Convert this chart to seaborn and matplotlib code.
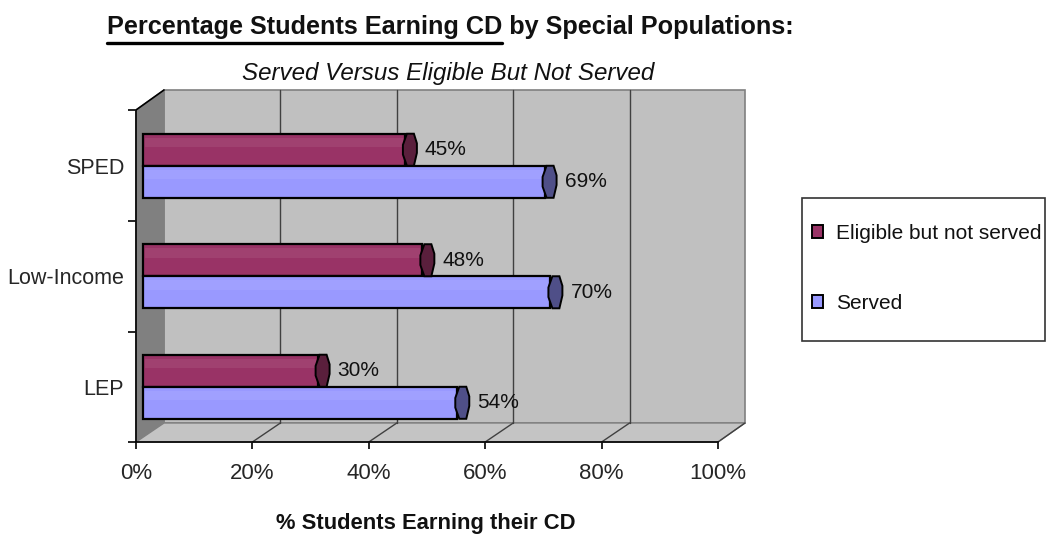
import matplotlib
matplotlib.use('Agg')
import matplotlib.pyplot as plt
import seaborn as sns
import pandas as pd
from matplotlib.patches import Polygon, Patch, Rectangle
from matplotlib.lines import Line2D
from matplotlib.transforms import ScaledTranslation

categories = ['SPED', 'Low-Income', 'LEP']
series_names = ['Eligible but not served', 'Served']
eligible = [0.45, 0.48, 0.30]
served = [0.69, 0.70, 0.54]
xtick_vals = [0, 0.2, 0.4, 0.6, 0.8, 1.0]
xtick_labels = ['0%', '20%', '40%', '60%', '80%', '100%']
colors = ['#993366', '#9999FF']
cap_colors = ['#5A1F3C', '#4F4F88']

df = pd.DataFrame({
    'cat': categories * 2,
    'series': [series_names[0]] * 3 + [series_names[1]] * 3,
    'value': eligible + served,
})

sns.set_theme(style='white')
FONT = ['Liberation Sans', 'DejaVu Sans']
plt.rcParams['font.family'] = FONT

W, H = 1047, 535
fig = plt.figure(figsize=(W / 100, H / 100), dpi=100)
fig.patch.set_facecolor('white')


def fx(x):
    return x / W


def fy(y):
    return 1 - y / H


def P(pts):
    return [(fx(x), fy(y)) for x, y in pts]


SCALE = 582.0  # px per 100%
ax = fig.add_axes([fx(136), fy(442), SCALE / W, (442 - 90) / H])
sns.barplot(data=df, y='cat', x='value', hue='series', orient='h',
            palette=colors, width=0.58, edgecolor='black', linewidth=1.6,
            saturation=1, ax=ax, legend=False, zorder=5)
ax.set_xlim(0, 1)
ax.set_ylim(2.5, 2.5 - 352 / 110.5)
ax.patch.set_visible(False)
for s in ['top', 'right', 'left']:
    ax.spines[s].set_visible(False)
ax.spines['bottom'].set_color('black')
ax.spines['bottom'].set_linewidth(1.2)
ax.set_xlabel('')
ax.set_ylabel('')

# 3D walls
deco = dict(transform=fig.transFigure, clip_on=False)
ax.add_patch(Polygon(P([(164, 90), (745, 90), (745, 423), (164, 423)]),
                     closed=True, facecolor='#C0C0C0', edgecolor='#808080', lw=1.2, zorder=0, **deco))
ax.add_patch(Polygon(P([(136, 442), (136, 110), (164, 90), (164, 423)]),
                     closed=True, facecolor='#808080', edgecolor='#808080', lw=1, zorder=1, **deco))
ax.add_patch(Polygon(P([(136, 442), (164, 423), (745, 423), (718, 442)]),
                     closed=True, facecolor='#C4C4C4', edgecolor='#808080', lw=1, zorder=1, **deco))
for xv in xtick_vals[1:-1]:
    xf = 136 + xv * SCALE
    xb = xf + 28
    ax.add_line(Line2D([fx(xb), fx(xb)], [fy(90), fy(423)], color='#404040', lw=1, zorder=2, **deco))
    ax.add_line(Line2D([fx(xf), fx(xb)], [fy(442), fy(423)], color='#404040', lw=1, zorder=2, **deco))
ax.add_line(Line2D([fx(718), fx(745)], [fy(442), fy(423)], color='#404040', lw=1, zorder=2, **deco))
ax.add_line(Line2D([fx(136), fx(136), fx(164)], [fy(442), fy(110), fy(90)], color='black', lw=1.2, zorder=3, **deco))

# shift bars into the middle depth plane and add the prism end caps
shift = ScaledTranslation(7 / 100, 0, fig.dpi_scale_trans)
cap_shape = [(-2, 0.35), (2, 0.0), (9, 0.0), (12, 0.3), (12, 0.6), (9, 1.0), (2, 1.0), (-2, 0.65)]
for ci, cont in enumerate(ax.containers):
    for p in cont:
        p.set_transform(ax.transData + shift)
        x1 = p.get_x() + p.get_width()
        y0 = p.get_y()
        h = p.get_height()
        pts = [(x1 + dx / SCALE, y0 + fr * h) for dx, fr in cap_shape]
        ax.add_patch(Polygon(pts, closed=True, facecolor=cap_colors[ci], edgecolor='black',
                             lw=1.4, transform=ax.transData + shift, zorder=6))
        # subtle highlight band on the upper part of the bar body
        ax.add_patch(Rectangle((p.get_x() + 2 / SCALE, y0 + 0.12 * h), p.get_width() - 4 / SCALE, 0.3 * h,
                               facecolor='white', alpha=0.07, lw=0,
                               transform=ax.transData + shift, zorder=5.5))
    vals = eligible if ci == 0 else served
    ax.bar_label(cont, labels=[f'{v:.0%}' for v in vals], padding=19.5,
                 fontsize=15, color='#111111', zorder=7)

ax.set_xticks(xtick_vals)
ax.set_xticklabels(xtick_labels, fontsize=16)
ax.tick_params(axis='x', bottom=True, direction='out', length=5, width=1.2, color='black', pad=10)
ax.set_yticks([0, 1, 2])
ax.set_yticklabels(categories, fontsize=15.5)
ax.set_yticks([-0.5, 0.5, 1.5, 2.5], minor=True)
ax.tick_params(axis='y', which='major', left=False, length=0, pad=8.6)
ax.tick_params(axis='y', which='minor', left=True, direction='out', length=6, width=1.2, color='black')

fig.canvas.draw()
renderer = fig.canvas.get_renderer()


def fit_text(x, y, s, target_w, base=16, **kw):
    t = fig.text(x, y, s, fontsize=base, **kw)
    w = t.get_window_extent(renderer).width
    t.set_fontsize(base * target_w / w)
    return t


# titles
title_full = 'Percentage Students Earning CD by Special Populations:'
title_ul = 'Percentage Students Earning CD'
t1 = fit_text(fx(107), fy(34), title_full, 686, ha='left', va='baseline',
              fontweight='bold', color='#111111')
tmp = fig.text(fx(107), fy(34), title_ul, fontsize=t1.get_fontsize(), fontweight='bold',
               ha='left', va='baseline')
ul_w = tmp.get_window_extent(renderer).width
tmp.remove()
fig.add_artist(Line2D([fx(107), fx(107 + ul_w)], [fy(43), fy(43)], color='black', lw=2.4))

fit_text(fx(448.5), fy(80), 'Served Versus Eligible But Not Served', 413, ha='center', va='baseline',
         style='italic', color='#111111')
fit_text(fx(425.5), fy(529), '% Students Earning their CD', 299, ha='center', va='baseline',
         fontweight='bold', color='#111111')

# legend
fig.add_artist(Rectangle((fx(802), fy(341)), (1045 - 802) / W, (341 - 198) / H,
                         transform=fig.transFigure, facecolor='white', edgecolor='#333333', lw=1.2))
handles = [Patch(facecolor=c, edgecolor='black', lw=1.4) for c in colors]
leg = fig.legend(handles, series_names, loc='center left', bbox_to_anchor=(fx(812), fy(268.5)),
                 fontsize=15, frameon=False,
                 labelspacing=2.45, handlelength=0.55, handleheight=0.55, handletextpad=0.6,
                 borderpad=0, borderaxespad=0)
for txt in leg.get_texts():
    txt.set_color('#111111')

fig.savefig('out.png', dpi=100)
